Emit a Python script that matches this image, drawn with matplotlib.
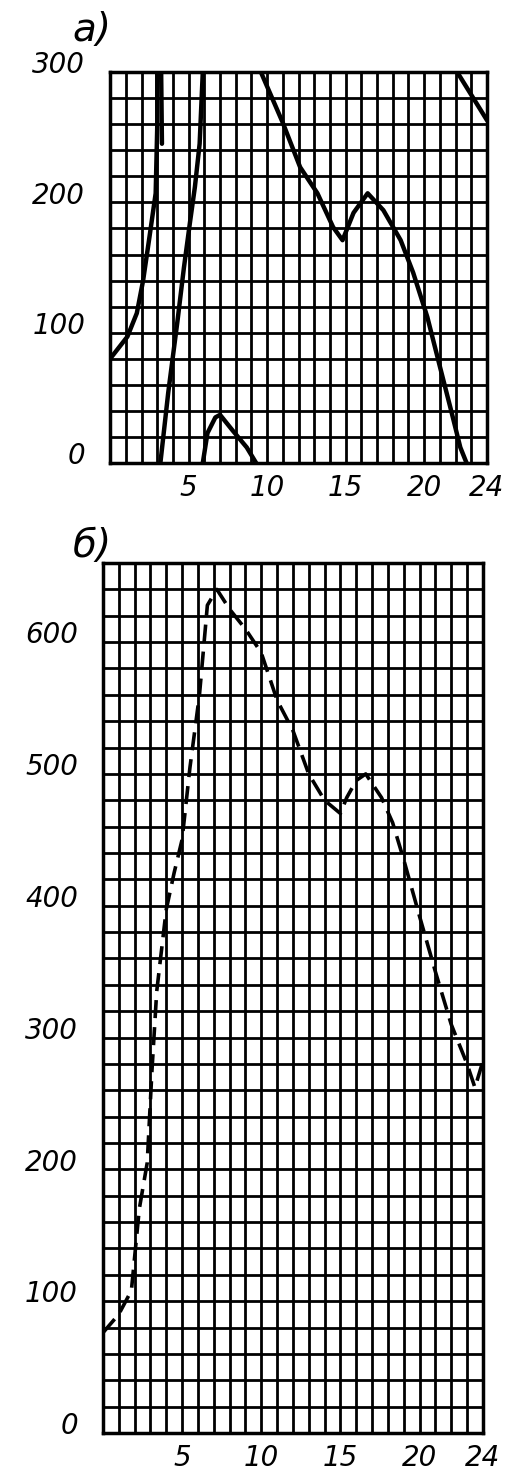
import matplotlib
matplotlib.use("Agg")
import matplotlib.pyplot as plt
import matplotlib.transforms as mtransforms
from matplotlib.ticker import MultipleLocator

# panel a) - load wrapped into 0..300 band, one list pair per drawn stroke
a_h1 = [0.0, 1.1, 1.7, 2.1, 2.5, 2.9, 3.0, 3.0]
a_v1 = [80, 97, 115, 140, 173, 207, 258, 300]
a_h2 = [3.25, 3.3]
a_v2 = [300, 245]
a_h3 = [3.2, 3.7, 4.3, 4.7, 5.1, 5.4, 5.7, 5.9]
a_v3 = [0, 54, 110, 150, 186, 212, 245, 300]
a_h4 = [5.9, 6.2, 6.7, 7.0, 7.8, 8.7, 9.3]
a_v4 = [0, 23, 35, 37, 25, 12, 0]
a_h5 = [9.6, 11.0, 12.1, 13.2, 14.2, 14.8, 15.5, 16.4, 17.4, 18.5, 19.3, 20.2, 21.0, 21.7, 22.3, 22.7]
a_v5 = [300, 261, 227, 207, 181, 171, 192, 207, 194, 171, 146, 112, 74, 41, 12, 0]
a_h6 = [22.1, 24.0]
a_v6 = [300, 263]

# panel б) - full load curve
b_h = [0, 1.0, 1.8, 2.3, 2.8, 3.1, 3.4, 4.0, 4.5, 5.0, 5.5, 6.1, 6.6, 7.2, 8.0, 9.0,
       10.0, 11.0, 12.0, 13.0, 14.0, 15.0, 15.4, 16.0, 16.6, 17.6, 18.3, 19.0, 20.0,
       21.0, 22.0, 23.0, 23.5, 24.0]
b_v = [76, 90, 108, 170, 205, 275, 335, 397, 425, 450, 505, 560, 628, 640, 625, 610,
       592, 556, 533, 500, 480, 470, 482, 495, 500, 482, 463, 435, 392,
       350, 310, 280, 262, 282]

x_ticks = [5, 10, 15, 20, 24]
a_yticks = [0, 100, 200, 300]
b_yticks = [0, 100, 200, 300, 400, 500, 600]

fig = plt.figure(figsize=(5.17, 14.77), dpi=100)
ax_a = fig.add_axes([0.213, 0.6865, 0.729, 0.2647])
ax_b = fig.add_axes([0.199, 0.0298, 0.735, 0.589])

# hand-lettered labels sit a little above their grid line
lift = mtransforms.ScaledTranslation(0, 7 / 72, fig.dpi_scale_trans)


def style_axis(ax, ymax, yticks):
    ax.set_xlim(0, 24)
    ax.set_ylim(0, ymax)
    ax.xaxis.set_minor_locator(MultipleLocator(1))
    ax.yaxis.set_minor_locator(MultipleLocator(20))
    ax.set_xticks(x_ticks)
    ax.set_yticks(yticks)
    ax.grid(which='both', color='black', linewidth=2.0)
    ax.set_axisbelow(True)
    for s in ax.spines.values():
        s.set_linewidth(2.5)
    ax.tick_params(which='both', length=0)
    ax.tick_params(axis='x', pad=8)
    ax.tick_params(axis='y', pad=18)
    for lab in ax.get_xticklabels():
        lab.set_style('italic')
        lab.set_fontsize(20)
    for lab in ax.get_yticklabels():
        lab.set_style('italic')
        lab.set_fontsize(20)
        lab.set_transform(lab.get_transform() + lift)


style_axis(ax_a, 300, a_yticks)
style_axis(ax_b, 660, b_yticks)

for hs, vs in [(a_h1, a_v1), (a_h2, a_v2), (a_h3, a_v3), (a_h4, a_v4), (a_h5, a_v5), (a_h6, a_v6)]:
    ax_a.plot(hs, vs, color='black', linewidth=3.2, solid_capstyle='round')

ax_b.plot(b_h, b_v, color='black', linewidth=2.6, linestyle=(0, (5, 2.5)))

fig.text(0.178, 0.980, 'а)', style='italic', fontsize=28, ha='center', va='center')
fig.text(0.178, 0.630, 'б)', style='italic', fontsize=28, ha='center', va='center')

fig.savefig('out.png', dpi=100)
